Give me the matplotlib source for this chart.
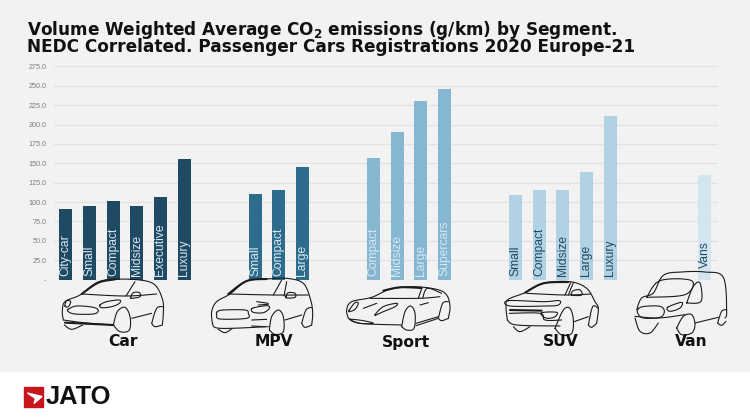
import numpy as np
import matplotlib
matplotlib.use('Agg')
import matplotlib.pyplot as plt
from matplotlib.patches import Rectangle, Polygon

# values (g/km)
car_labels = ['City-car', 'Small', 'Compact', 'Midsize', 'Executive', 'Luxury']
car_values = [90.4, 94.7, 100.7, 95.0, 106.0, 155.8]
mpv_labels = ['Small', 'Compact', 'Large']
mpv_values = [110.6, 116.0, 145.0]
sport_labels = ['Compact', 'Midsize', 'Large', 'Supercars']
sport_values = [156.7, 190.7, 230.7, 245.8]
suv_labels = ['Small', 'Compact', 'Midsize', 'Large', 'Luxury']
suv_values = [109.3, 115.0, 115.8, 138.6, 210.5]
van_labels = ['Vans']
van_values = [134.7]

group_names = ['Car', 'MPV', 'Sport', 'SUV', 'Van']
y_ticks = [0, 25, 50, 75, 100, 125, 150, 175, 200, 225, 250, 275]
y_tick_labels = ['-', '25.0', '50.0', '75.0', '100.0', '125.0', '150.0',
                 '175.0', '200.0', '225.0', '250.0', '275.0']

BG = '#f2f2f2'
W, H = 750, 420
INK = '#1c1c1c'

plt.rcParams['mathtext.fontset'] = 'dejavusans'


# catmull-rom through the hand placed points of the icon strokes
def smooth(pts, closed=False, steps=10):
    pts = np.array(pts, dtype=float)
    if closed:
        pts = np.vstack([pts[-1], pts, pts[:2]])
    else:
        pts = np.vstack([pts[0], pts, pts[-1]])
    t = np.linspace(0, 1, steps, endpoint=False)[:, None]
    out = []
    for i in range(1, len(pts) - 2):
        p0, p1, p2, p3 = pts[i - 1], pts[i], pts[i + 1], pts[i + 2]
        out.append(0.5 * (2 * p1 + (p2 - p0) * t + (2 * p0 - 5 * p1 + 4 * p2 - p3) * t ** 2
                          + (3 * p1 - p0 - 3 * p2 + p3) * t ** 3))
    out = np.vstack(out)
    return np.vstack([out, pts[-2]])


def draw_icon(ax, x0, y0, open_lines, closed_lines, heavy=()):
    for line in open_lines:
        p = smooth(line)
        ax.plot(x0 + p[:, 0] / 3, y0 + p[:, 1] / 3, color=INK, lw=0.8, solid_capstyle='round')
    for line in closed_lines:
        p = smooth(line, closed=True)
        ax.plot(x0 + p[:, 0] / 3, y0 + p[:, 1] / 3, color=INK, lw=0.8)
    for line in heavy:
        p = smooth(line)
        ax.plot(x0 + p[:, 0] / 3, y0 + p[:, 1] / 3, color=INK, lw=1.5, solid_capstyle='round')


fig = plt.figure(figsize=(W / 100, H / 100), dpi=100, facecolor=BG)

# full figure layer in pixels, for the footer, titles and car drawings
over = fig.add_axes([0, 0, 1, 1], zorder=3)
over.set_xlim(0, W)
over.set_ylim(H, 0)
over.axis('off')
over.patch.set_alpha(0)

ax = fig.add_axes([54 / W, 1 - 279.5 / H, (717.7 - 54) / W, (279.5 - 66.4) / H], zorder=2)
ax.patch.set_alpha(0)

# colour, label colour, label start, empty slots after the group
groups = [
    (car_labels, car_values, '#1f4a63', '#d9e8f0', 4.5, 2),
    (mpv_labels, mpv_values, '#2d6c8c', '#d9e8f0', 4.5, 2),
    (sport_labels, sport_values, '#85b7d2', '#d6e8f2', 4.5, 2),
    (suv_labels, suv_values, '#b0d2e3', '#1f4a63', 4.5, 3),
    (van_labels, van_values, '#d3e6ef', '#1f4a63', 14.8, 0),
]

slot = 0
for labels, values, color, text_color, label_y, gap in groups:
    xs = np.arange(slot, slot + len(values))
    ax.bar(xs, values, width=0.55, color=color, zorder=2)
    for x, label in zip(xs, labels):
        ax.text(x, label_y, label, rotation=90, ha='center', va='bottom', color=text_color,
                fontsize=8.7, family='Liberation Sans', zorder=3)
    slot += len(values) + gap

ax.set_xlim(-0.5, 27.55)
ax.set_ylim(0, 275)
ax.set_yticks(y_ticks)
ax.set_yticklabels(y_tick_labels, fontsize=5.2, color='#7d7d7d', family='Liberation Sans')
ax.set_xticks([])
ax.tick_params(axis='y', length=0, pad=5.5)
ax.grid(axis='y', color='#e2e2e2', lw=0.9, zorder=1)
ax.set_axisbelow(True)
for s in ax.spines.values():
    s.set_visible(False)

# title
over.text(27, 37.5, 'Volume Weighted Average CO$_{\\mathbf{2}}$ emissions (g/km) by Segment.\n'
          'NEDC Correlated. Passenger Cars Registrations 2020 Europe-21', fontsize=12.2,
          fontweight='bold', family='DejaVu Sans', color='#111111', va='center', ha='left',
          linespacing=0.8)

# group names
for name, x in zip(group_names, [123, 274, 405.7, 561, 691.7]):
    over.text(x, 342, name, fontsize=11.2, fontweight='bold', family='DejaVu Sans',
              color='#111111', ha='center', va='center')

# footer
over.add_patch(Rectangle((0, 372), W, H - 372, color='white', zorder=0))
over.add_patch(Rectangle((23.5, 387), 19.5, 20, color='#c8161d', zorder=1))
over.add_patch(Polygon([(27.5, 393), (42, 396.5), (34, 403.5), (35.5, 398.5)], color='white', zorder=2))
over.text(45.5, 397.5, 'JATO', fontsize=18.4, fontweight='bold', family='Liberation Sans',
          color='#111111', ha='left', va='center')

# car
draw_icon(over, 0, 270, [
    [(190, 150), (187, 125), (195, 95), (240, 75), (290, 38), (340, 28), (420, 30), (465, 45), (488, 90), (490, 130), (487, 165)],
    [(190, 150), (250, 158), (340, 165)],
    [(193, 165), (215, 178), (248, 165)],
    [(340, 165), (352, 125), (375, 112), (390, 140), (388, 180), (360, 185), (340, 165)],
    [(455, 160), (470, 115), (490, 110)],
    [(455, 160), (465, 170), (487, 165)],
    [(395, 145), (455, 130)],
    [(245, 72), (375, 78), (470, 72)],
    [(378, 78), (405, 35)],
], [
    [(205, 118), (230, 108), (280, 112), (295, 122), (280, 132), (225, 132), (205, 125)],
    [(300, 105), (320, 95), (358, 90), (358, 100), (335, 110), (305, 113)],
    [(195, 108), (200, 92), (212, 95), (205, 110)],
    [(392, 82), (400, 68), (418, 68), (420, 80), (395, 85)],
], [[(245, 72), (295, 38), (345, 28)], [(195, 158), (340, 165)]])

# mpv
draw_icon(over, 0, 270, [
    [(637, 160), (635, 125), (650, 95), (690, 72), (740, 33), (800, 27), (860, 25), (910, 40), (932, 90), (938, 130), (935, 165)],
    [(685, 72), (820, 75), (925, 75)],
    [(820, 75), (845, 30)],
    [(852, 78), (860, 35)],
    [(770, 95), (805, 100)],
    [(775, 105), (805, 103)],
    [(755, 150), (800, 148)],
    [(755, 168), (795, 170)],
    [(637, 160), (660, 175), (805, 170)],
    [(655, 178), (675, 188), (697, 175)],
    [(808, 180), (815, 140), (835, 120), (850, 140), (850, 185), (825, 193), (808, 180)],
    [(905, 160), (918, 120), (935, 112)],
    [(905, 160), (915, 172), (935, 165)],
    [(855, 150), (905, 135)],
], [
    [(652, 125), (670, 120), (735, 120), (745, 130), (740, 145), (660, 147), (650, 135)],
    [(757, 115), (800, 107), (808, 115), (790, 128), (760, 127)],
    [(858, 80), (865, 68), (885, 70), (885, 82), (860, 84)],
], [[(685, 72), (740, 33), (800, 27)]])

# sport
draw_icon(over, 340, 280, [
    [(25, 115), (20, 90), (35, 65), (95, 52), (150, 28), (220, 20), (290, 28), (320, 45), (330, 80), (325, 115)],
    [(90, 55), (235, 55), (300, 50)],
    [(235, 55), (245, 25)],
    [(248, 55), (262, 25), (305, 40)],
    [(25, 115), (60, 130), (185, 135)],
    [(70, 85), (110, 70)],
    [(185, 140), (195, 95), (212, 78), (225, 100), (222, 145), (200, 150), (185, 140)],
    [(295, 115), (308, 70), (325, 65)],
    [(295, 115), (305, 122), (325, 115)],
    [(228, 130), (295, 110)],
    [(228, 137), (295, 115)],
    [(240, 75), (265, 68)],
], [
    [(30, 118), (70, 122), (100, 130), (60, 130)],
    [(28, 90), (45, 68), (55, 70), (45, 88), (28, 95)],
    [(105, 105), (130, 80), (170, 70), (165, 80), (130, 95)],
], [[(130, 32), (180, 22), (245, 24)]])

# suv
draw_icon(over, 500, 270, [
    [(22, 150), (18, 110), (25, 88), (75, 68), (130, 40), (210, 35), (260, 55), (285, 95), (295, 115), (290, 160)],
    [(80, 70), (195, 75), (272, 72)],
    [(195, 75), (212, 38)],
    [(205, 75), (220, 38)],
    [(28, 130), (120, 130), (135, 150), (185, 150)],
    [(22, 150), (50, 165), (180, 168)],
    [(165, 175), (190, 120), (210, 115), (220, 150), (215, 190), (185, 195), (165, 175)],
    [(265, 165), (278, 110), (295, 115)],
    [(265, 165), (275, 172), (290, 160)],
    [(222, 155), (265, 140)],
    [(40, 170), (60, 185), (90, 170)],
], [
    [(25, 92), (130, 95), (178, 92), (175, 105), (140, 108), (30, 108)],
    [(125, 128), (170, 127), (165, 140), (145, 145), (130, 140)],
    [(215, 75), (220, 62), (240, 60), (245, 75)],
], [[(30, 120), (125, 122)], [(75, 68), (130, 40), (205, 36)]])

# van
draw_icon(over, 625, 268, [
    [(35, 125), (50, 90), (85, 75), (115, 22), (170, 12), (240, 12), (295, 28), (305, 130), (300, 150)],
    [(65, 88), (105, 38), (200, 38), (180, 80), (65, 88)],
    [(185, 105), (205, 55), (225, 45), (228, 100), (185, 105)],
    [(30, 145), (100, 150), (180, 140)],
    [(30, 150), (45, 190), (75, 195), (100, 165)],
    [(155, 180), (175, 145), (200, 140), (210, 170), (200, 195), (170, 200), (155, 180)],
    [(278, 165), (290, 130), (305, 125)],
    [(278, 165), (290, 172), (303, 160)],
    [(210, 165), (280, 148)],
], [
    [(40, 122), (60, 115), (105, 115), (118, 130), (105, 148), (55, 150), (38, 135)],
    [(128, 118), (170, 103), (165, 120), (135, 130)],
])

fig.savefig('out.png', dpi=100, facecolor=BG)
